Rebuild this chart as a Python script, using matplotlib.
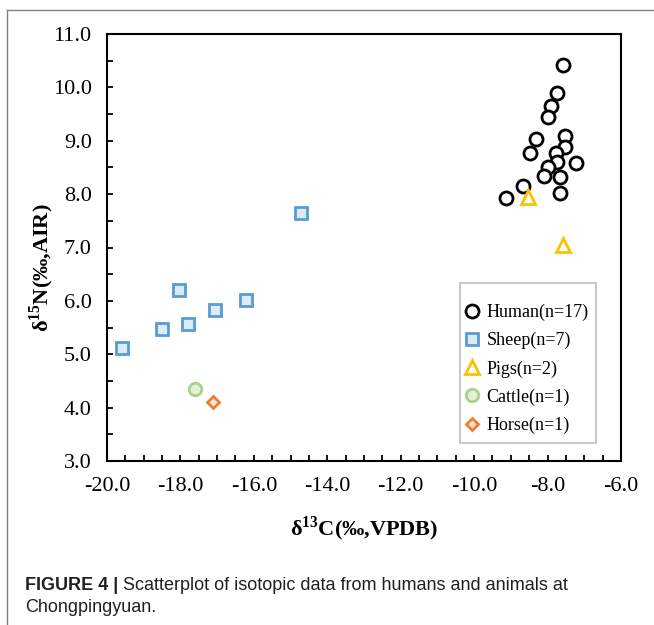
import matplotlib
matplotlib.use("Agg")
import matplotlib.pyplot as plt
from matplotlib.lines import Line2D
from matplotlib.patches import Rectangle
from matplotlib.ticker import MultipleLocator, FormatStrFormatter

plt.rcParams['font.family'] = ['Liberation Serif', 'DejaVu Serif']
plt.rcParams['mathtext.fontset'] = 'custom'
plt.rcParams['mathtext.rm'] = 'Liberation Serif'
plt.rcParams['mathtext.bf'] = 'Liberation Serif:bold'

# ---- data ----
human_c = [-7.57, -7.75, -7.90, -7.98, -8.31, -7.52, -7.52, -8.48, -7.78, -7.73,
           -7.23, -7.99, -8.09, -7.66, -8.66, -7.66, -9.14]
human_n = [10.41, 9.90, 9.65, 9.45, 9.03, 9.09, 8.89, 8.77, 8.77, 8.60,
           8.59, 8.51, 8.34, 8.33, 8.16, 8.02, 7.93]
sheep_c = [-14.72, -18.05, -16.22, -17.05, -17.80, -18.50, -19.59]
sheep_n = [7.64, 6.20, 6.02, 5.83, 5.57, 5.47, 5.12]
pigs_c = [-8.54, -7.57]
pigs_n = [7.95, 7.05]
cattle_c = [-17.60]
cattle_n = [4.34]
horse_c = [-17.11]
horse_n = [4.11]

labels = ["Human(n=17)", "Sheep(n=7)", "Pigs(n=2)", "Cattle(n=1)", "Horse(n=1)"]

W, H = 654, 625
fig = plt.figure(figsize=(W / 100, H / 100), dpi=100)
ax = fig.add_axes([107 / W, 1 - 461 / H, 514 / W, 427 / H])

lw = 2.0
ax.plot(human_c, human_n, 'o', ms=9.4, mfc='white', mec='black', mew=lw, ls='none', label=labels[0])
ax.plot(sheep_c, sheep_n, 's', ms=8.8, mfc='#DDEBF7', mec='#5B9BD5', mew=lw, ls='none', label=labels[1])
ax.plot(pigs_c, pigs_n, '^', ms=10, mfc='white', mec='#FFC000', mew=lw, ls='none', label=labels[2])
ax.plot(cattle_c, cattle_n, 'o', ms=9.0, mfc='#E2F0D9', mec='#A9D18E', mew=lw, ls='none', label=labels[3])
ax.plot(horse_c, horse_n, 'D', ms=6.4, mfc='#FBE5D6', mec='#ED7D31', mew=lw, ls='none', label=labels[4])

ax.set_xlim(-20, -6)
ax.set_ylim(3, 11)
ax.xaxis.set_major_locator(MultipleLocator(2))
ax.xaxis.set_minor_locator(MultipleLocator(0.5))
ax.yaxis.set_major_locator(MultipleLocator(1))
ax.yaxis.set_minor_locator(MultipleLocator(0.5))
ax.xaxis.set_major_formatter(FormatStrFormatter('%.1f'))
ax.yaxis.set_major_formatter(FormatStrFormatter('%.1f'))

for s in ax.spines.values():
    s.set_linewidth(1.5)
    s.set_color('black')

ax.tick_params(axis='both', which='both', direction='in', length=4.5, width=1.3,
               top=False, right=False, colors='black')
ax.tick_params(axis='x', which='major', labelsize=16, pad=11.5)
ax.tick_params(axis='y', which='major', labelsize=16, pad=11)

ax.set_xlabel(r'δ$^{\mathbf{13}}$C(‰,VPDB)', fontsize=16, fontweight='bold', labelpad=13)
fig.text(42 / W, 1 - 268 / H, r'δ$^{\mathbf{15}}$N(‰,AIR)', fontsize=16, fontweight='bold',
         rotation=90, ha='center', va='center')

# legend box
ax.add_patch(Rectangle((460 / W, 1 - 443 / H), 136 / W, 160 / H, transform=fig.transFigure,
                       fill=True, facecolor='white', edgecolor='#BFBFBF', lw=1.2,
                       zorder=4, clip_on=False))
leg = ax.legend(loc='upper left', bbox_to_anchor=((465 - 107) / 514, (461 - 304) / 427),
                borderaxespad=0, borderpad=0, fontsize=13, frameon=False,
                handlelength=0.75, handletextpad=0.45, labelspacing=0.6)
leg.set_zorder(6)

# page border lines
fig.add_artist(Line2D([7 / W, 1], [1 - 10 / H, 1 - 10 / H], color='#808080', lw=1.0))
fig.add_artist(Line2D([7 / W, 7 / W], [0, 1 - 10 / H], color='#808080', lw=1.0))

# caption
cap_fam = ['Liberation Sans', 'DejaVu Sans']
t1 = fig.text(25 / W, 1 - 586 / H, 'FIGURE 4 | ', fontsize=13, fontweight='bold',
              family=cap_fam, color='#231F20', va='center')
fig.canvas.draw()
bb = t1.get_window_extent()
fig.text(bb.x1 / W, 1 - 586 / H, 'Scatterplot of isotopic data from humans and animals at',
         fontsize=13, family=cap_fam, color='#231F20', va='center')
fig.text(25 / W, 1 - 608 / H, 'Chongpingyuan.', fontsize=13,
         family=cap_fam, color='#231F20', va='center')

fig.savefig('out.png', dpi=100)
